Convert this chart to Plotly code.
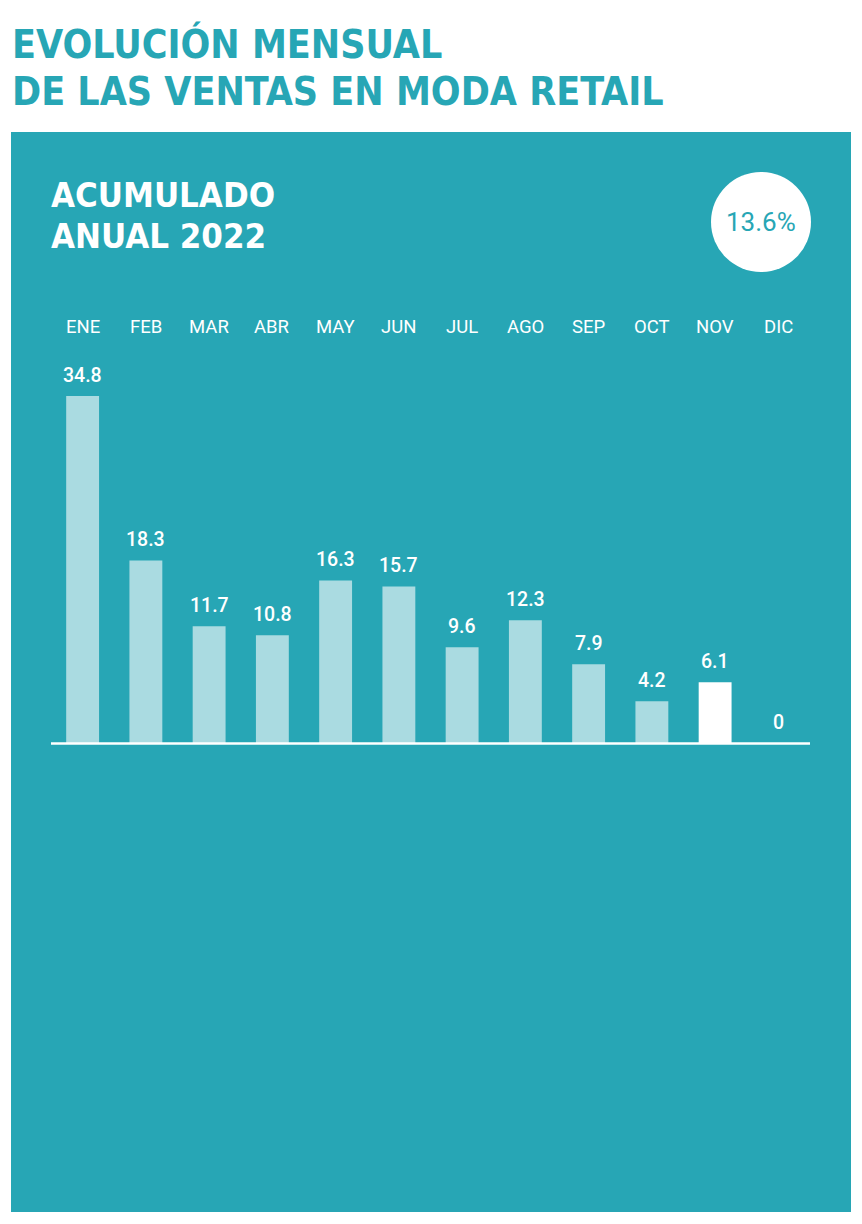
import plotly.graph_objects as go

months = ["ENE", "FEB", "MAR", "ABR", "MAY", "JUN", "JUL", "AGO", "SEP", "OCT", "NOV", "DIC"]
values = [34.8, 18.3, 11.7, 10.8, 16.3, 15.7, 9.6, 12.3, 7.9, 4.2, 6.1, 0]
value_labels = ["34.8", "18.3", "11.7", "10.8", "16.3", "15.7", "9.6", "12.3", "7.9", "4.2", "6.1", "0"]
highlight = "NOV"
title_lines = ["EVOLUCIÓN MENSUAL", "DE LAS VENTAS EN MODA RETAIL"]
subtitle_lines = ["ACUMULADO", "ANUAL 2022"]
annual_total = "13.6%"

OFF = 8  # browser default body margin
W, H = 862 - 2 * OFF, 1224 - 2 * OFF
L, R, T, B = 51 - OFF, 810 - OFF, 327 - OFF, 743 - OFF
TEAL = "#27A6B5"
LIGHT = "#AADBE1"

def px_x(p):
    return (p - OFF - L) / (R - L)

def px_y(p):
    return (B - (p - OFF)) / (B - T)

colors = ["#FFFFFF" if m == highlight else LIGHT for m in months]

fig = go.Figure()
fig.add_trace(go.Bar(x=months, y=values, marker=dict(color=colors, line=dict(width=0)),
                     hoverinfo="skip", showlegend=False))

shapes = [
    dict(type="rect", xref="paper", yref="paper", x0=px_x(11), x1=px_x(851), y0=px_y(1212), y1=px_y(132),
         fillcolor=TEAL, line=dict(width=0), layer="below"),
    dict(type="circle", xref="paper", yref="paper", x0=px_x(711), x1=px_x(811), y0=px_y(272), y1=px_y(172),
         fillcolor="#FFFFFF", line=dict(width=0), layer="below"),
    dict(type="line", xref="paper", yref="paper", x0=0, x1=1, y0=px_y(743.5), y1=px_y(743.5),
         line=dict(color="#FFFFFF", width=2.5), layer="above"),
]

ann = []
title_font = dict(family="DejaVu Sans Condensed, DejaVu Sans", size=39, color=TEAL, weight=700)
for line, yc in zip(title_lines, [44, 91]):
    ann.append(dict(text=line, xref="paper", yref="paper", x=px_x(10), y=px_y(yc), xanchor="left",
                    yanchor="middle", showarrow=False, font=title_font))
sub_font = dict(family="DejaVu Sans Condensed, DejaVu Sans", size=34.5, color="#FFFFFF", weight=700)
for line, yc in zip(subtitle_lines, [195, 236]):
    ann.append(dict(text=line, xref="paper", yref="paper", x=px_x(49), y=px_y(yc), xanchor="left",
                    yanchor="middle", showarrow=False, font=sub_font))
ann.append(dict(text=annual_total, xref="paper", yref="paper", x=px_x(761), y=px_y(222), xanchor="center",
                yanchor="middle", showarrow=False, font=dict(family="Roboto", size=26, color=TEAL)))
for m in months:
    ann.append(dict(text=m, xref="x", yref="paper", x=m, y=1, xanchor="center", yanchor="middle",
                    showarrow=False, font=dict(family="Roboto", size=18.5, color="#FFFFFF")))
for m, v, t in zip(months, values, value_labels):
    ann.append(dict(text=t, xref="x", yref="y", x=m, y=v, xanchor="center", yanchor="middle", yshift=21,
                    showarrow=False, font=dict(family="Roboto", size=19.5, color="#FFFFFF", weight=500)))

fig.update_layout(
    width=W, height=H,
    margin=dict(l=L, r=W - R, t=T, b=H - B, pad=0),
    paper_bgcolor="#FFFFFF", plot_bgcolor="rgba(0,0,0,0)",
    bargap=0.48,
    xaxis=dict(showgrid=False, showticklabels=False, zeroline=False, showline=False, fixedrange=True),
    yaxis=dict(range=[0, (B - T) / 9.97], showgrid=False, showticklabels=False, zeroline=False,
               showline=False, fixedrange=True),
    shapes=shapes, annotations=ann,
)

fig.write_html("out.html")
